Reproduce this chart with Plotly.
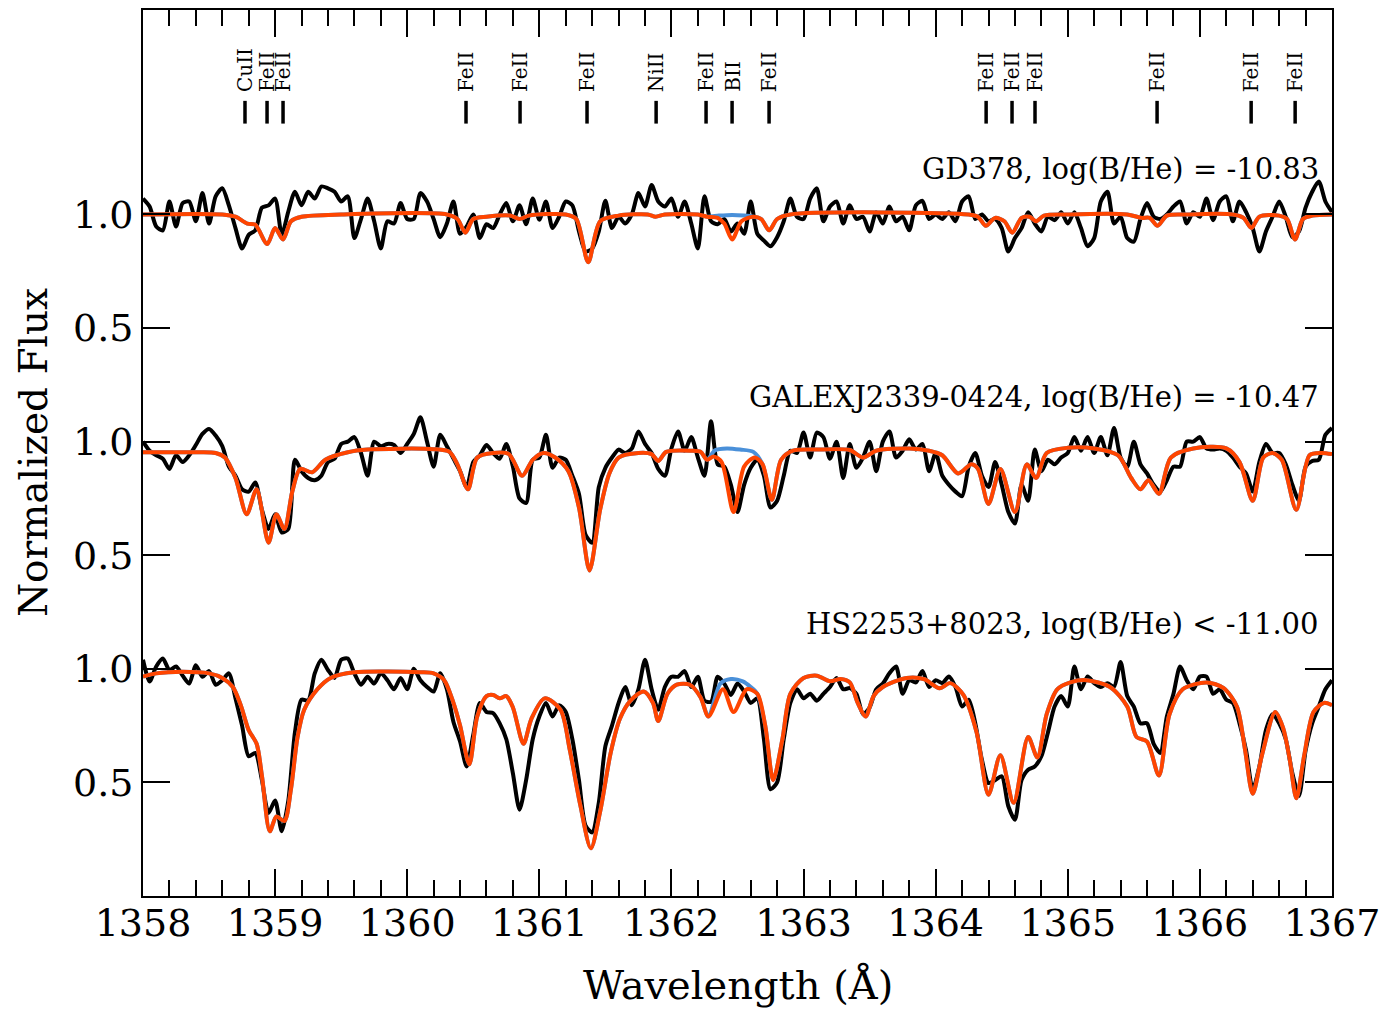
import plotly.graph_objects as go

# ---------------- data ----------------
WL_START = 1358.0
WL_STEP = 0.05
N_OBS = 181

OBS_GD378 = [
    1.07, 1.035, 0.947, 0.93, 1.057, 0.947, 1.05, 1.057, 0.97, 1.094, 0.96, 1.08, 1.115, 1.04, 0.94, 0.85, 0.91, 0.93, 1.03, 1.04,
    1.07, 0.91, 1.013, 1.10, 1.04, 1.10, 1.07, 1.123, 1.115, 1.10, 1.057, 1.08, 0.896, 0.98, 1.07, 0.97, 0.85, 0.97, 0.96, 1.05,
    0.98, 0.98, 1.094, 1.057, 0.98, 0.90, 0.96, 1.057, 0.915, 0.947, 1.00, 0.896, 0.957, 0.94, 1.0, 1.05, 0.97, 1.04, 0.957, 1.07,
    0.977, 1.057, 0.94, 0.99, 1.057, 1.04, 0.925, 0.837, 0.85, 0.925, 1.06, 0.94, 0.99, 0.96, 1.0, 1.094, 1.035, 1.13, 1.057, 1.035,
    1.07, 0.99, 1.057, 0.96, 0.85, 1.08, 0.97, 0.957, 0.98, 0.925, 0.96, 0.915, 1.057, 0.915, 0.885, 0.86, 0.90, 0.97, 1.07, 0.99,
    0.98, 1.07, 1.115, 0.97, 1.035, 1.057, 0.96, 1.04, 0.98, 0.99, 0.925, 1.01, 0.96, 1.035, 0.97, 0.99, 0.93, 1.04, 1.06, 0.98,
    1.0, 0.98, 1.01, 0.97, 1.057, 1.08, 0.98, 1.0, 0.97, 0.98, 0.94, 0.837, 0.896, 0.94, 1.01, 0.96, 0.925, 0.99, 0.975, 1.01,
    0.96, 1.01, 0.94, 0.86, 0.896, 1.057, 1.10, 0.96, 0.99, 0.896, 0.88, 0.98, 1.05, 0.99, 0.98, 1.0, 1.035, 1.057, 0.96, 1.01,
    0.99, 1.07, 0.975, 1.057, 1.08, 0.97, 1.057, 1.01, 0.94, 0.837, 0.925, 0.99, 1.057, 0.99, 0.90, 0.925, 1.03, 1.10, 1.145, 1.057,
    1.01,
]

OBS_GALEX = [
    1.0, 0.96, 0.94, 0.925, 0.88, 0.94, 0.91, 0.94, 0.985, 1.034, 1.056, 1.027, 0.98, 0.89, 0.85, 0.79, 0.78, 0.82, 0.70, 0.616,
    0.68, 0.60, 0.616, 0.92, 0.87, 0.84, 0.83, 0.85, 0.91, 0.925, 0.99, 1.0, 1.02, 0.95, 0.85, 1.0, 0.98, 0.99, 0.985, 0.95,
    0.99, 1.034, 1.107, 1.0, 0.89, 1.03, 0.98, 0.925, 0.87, 0.80, 0.91, 0.94, 0.985, 0.95, 0.925, 0.99, 0.89, 0.75, 0.73, 0.92,
    0.93, 1.03, 0.885, 0.93, 0.92, 0.85, 0.77, 0.59, 0.555, 0.80, 0.885, 0.93, 0.965, 0.95, 0.97, 1.045, 0.99, 0.95, 0.88, 0.85,
    0.97, 1.045, 0.96, 1.02, 0.93, 0.85, 1.09, 0.90, 0.89, 0.81, 0.69, 0.81, 0.885, 0.92, 0.85, 0.71, 0.74, 0.85, 0.96, 0.95,
    1.04, 0.93, 1.04, 1.02, 0.925, 1.0, 0.84, 0.99, 0.885, 0.93, 1.0, 0.87, 1.0, 1.045, 0.93, 0.96, 1.01, 0.965, 0.99, 0.87,
    0.95, 0.85, 0.81, 0.78, 0.76, 0.89, 0.95, 0.85, 0.80, 0.91, 0.81, 0.69, 0.64, 0.81, 0.74, 0.965, 0.87, 0.92, 0.90, 0.93,
    0.95, 1.02, 0.96, 1.02, 0.95, 1.02, 0.94, 1.06, 0.93, 0.89, 1.0, 0.90, 0.86, 0.81, 0.78, 0.83, 0.89, 0.89, 1.0, 1.0,
    1.02, 0.97, 0.965, 0.97, 0.96, 0.93, 0.89, 0.86, 0.78, 0.91, 0.99, 0.95, 0.95, 0.90, 0.81, 0.74, 0.89, 0.915, 0.92, 1.03,
    1.06,
]

OBS_HS2253 = [
    1.04, 0.944, 1.01, 1.045, 0.995, 1.01, 0.97, 0.935, 1.016, 0.965, 0.99, 0.93, 0.95, 0.98, 0.87, 0.75, 0.615, 0.63, 0.51, 0.365,
    0.42, 0.285, 0.42, 0.72, 0.864, 0.86, 0.98, 1.04, 0.995, 0.96, 1.04, 1.045, 0.98, 0.93, 0.965, 0.935, 0.98, 0.95, 0.91, 0.96,
    0.91, 1.0, 0.95, 0.92, 0.90, 0.98, 0.91, 0.766, 0.68, 0.57, 0.71, 0.85, 0.81, 0.805, 0.76, 0.69, 0.54, 0.38, 0.51, 0.69,
    0.79, 0.85, 0.79, 0.84, 0.81, 0.69, 0.51, 0.31, 0.28, 0.41, 0.66, 0.75, 0.85, 0.92, 0.84, 0.91, 1.04, 0.91, 0.82, 0.92,
    0.965, 0.965, 0.99, 0.92, 0.965, 0.86, 0.855, 0.965, 0.935, 0.885, 0.935, 0.90, 0.85, 0.87, 0.69, 0.47, 0.50, 0.69, 0.85, 0.91,
    0.87, 0.89, 0.86, 0.89, 0.92, 0.96, 0.91, 0.915, 0.89, 0.80, 0.83, 0.91, 0.935, 0.98, 1.01, 0.89, 0.95, 0.94, 0.99, 0.92,
    0.95, 0.937, 0.966, 0.92, 0.834, 0.864, 0.76, 0.60, 0.497, 0.51, 0.527, 0.395, 0.336, 0.51, 0.556, 0.57, 0.615, 0.72, 0.834, 0.88,
    0.834, 1.01, 0.91, 0.966, 0.937, 0.92, 0.937, 0.92, 1.03, 0.88, 0.834, 0.76, 0.76, 0.67, 0.63, 0.79, 0.89, 1.01, 0.95, 0.91,
    0.966, 0.966, 0.89, 0.91, 0.864, 0.85, 0.76, 0.64, 0.468, 0.57, 0.73, 0.80, 0.76, 0.69, 0.54, 0.44, 0.64, 0.76, 0.834, 0.91,
    0.95,
]

# models (with boron) at model wavelengths
MOD_GD378_WL = [1358.00, 1358.60, 1358.70, 1358.79, 1358.85, 1358.94, 1359.00, 1359.06, 1359.12, 1359.20, 1359.50,
                1360.30, 1360.38, 1360.44, 1360.50, 1360.60, 1360.78, 1360.85, 1360.92, 1361.20, 1361.28, 1361.37,
                1361.46, 1361.60, 1361.82, 1361.88, 1361.95, 1362.20, 1362.27, 1362.35, 1362.40, 1362.46, 1362.53,
                1362.62, 1362.68, 1362.74, 1362.80, 1362.90, 1364.25, 1364.32, 1364.38, 1364.45, 1364.52, 1364.58,
                1364.65, 1364.71, 1364.76, 1364.82, 1365.00, 1365.45, 1365.56, 1365.62, 1365.68, 1365.75, 1365.90,
                1366.25, 1366.33, 1366.39, 1366.45, 1366.60, 1366.66, 1366.72, 1366.78, 1366.85, 1367.00]
MOD_GD378_FLUX = [1.0, 1.0, 0.99, 0.96, 0.955, 0.87, 0.94, 0.89, 0.97, 0.99, 1.0,
                  1.0, 0.98, 0.92, 0.98, 0.99, 0.995, 0.98, 0.995, 1.0, 0.98, 0.79,
                  0.97, 0.995, 1.0, 0.99, 1.0, 1.0, 0.99, 0.985, 0.96, 0.89, 0.97,
                  0.99, 0.98, 0.93, 0.98, 1.0, 1.0, 0.99, 0.95, 0.985, 0.97, 0.92,
                  0.985, 0.99, 0.97, 0.995, 1.0, 1.0, 0.985, 0.985, 0.95, 0.995, 1.0,
                  1.0, 0.985, 0.94, 0.99, 0.995, 0.98, 0.89, 0.98, 0.995, 1.0]

MOD_GALEX_WL = [1358.00, 1358.40, 1358.55, 1358.62, 1358.70, 1358.785, 1358.86, 1358.95, 1359.01, 1359.07,
                1359.13, 1359.19, 1359.28, 1359.38, 1359.55, 1359.70, 1360.20, 1360.32, 1360.38, 1360.46,
                1360.53, 1360.65, 1360.77, 1360.87, 1360.95, 1361.03, 1361.12, 1361.22, 1361.30, 1361.38,
                1361.46, 1361.53, 1361.60, 1361.75, 1361.85, 1361.90, 1361.96, 1362.15, 1362.22, 1362.27,
                1362.32, 1362.38, 1362.47, 1362.55, 1362.63, 1362.69, 1362.76, 1362.83, 1362.92, 1363.10,
                1363.35, 1363.45, 1363.55, 1363.80, 1363.95, 1364.05, 1364.17, 1364.27, 1364.32, 1364.40,
                1364.49, 1364.60, 1364.69, 1364.76, 1364.84, 1365.00, 1365.20, 1365.38, 1365.48, 1365.55,
                1365.61, 1365.69, 1365.78, 1365.95, 1366.20, 1366.30, 1366.40, 1366.48, 1366.55, 1366.62,
                1366.73, 1366.83, 1366.92, 1367.00]
MOD_GALEX_FLUX = [0.953, 0.953, 0.95, 0.93, 0.84, 0.68, 0.79, 0.555, 0.68, 0.615,
                  0.78, 0.88, 0.865, 0.92, 0.953, 0.965, 0.967, 0.955, 0.90, 0.79,
                  0.93, 0.95, 0.945, 0.85, 0.92, 0.95, 0.93, 0.87, 0.71, 0.433,
                  0.70, 0.86, 0.93, 0.95, 0.945, 0.915, 0.955, 0.96, 0.955, 0.92,
                  0.935, 0.91, 0.69, 0.89, 0.93, 0.90, 0.744, 0.92, 0.96, 0.965,
                  0.963, 0.93, 0.96, 0.97, 0.96, 0.94, 0.86, 0.90, 0.88, 0.726,
                  0.88, 0.69, 0.90, 0.84, 0.95, 0.973, 0.97, 0.94, 0.84, 0.79,
                  0.83, 0.77, 0.93, 0.97, 0.97, 0.91, 0.74, 0.93, 0.95, 0.92,
                  0.70, 0.94, 0.95, 0.945]

MOD_HS2253_WL = [1358.00, 1358.10, 1358.30, 1358.50, 1358.60, 1358.68, 1358.74, 1358.80, 1358.86, 1358.90,
                 1358.96, 1359.01, 1359.07, 1359.12, 1359.17, 1359.22, 1359.32, 1359.42, 1359.60, 1360.10,
                 1360.20, 1360.28, 1360.35, 1360.40, 1360.47, 1360.53, 1360.60, 1360.65, 1360.70, 1360.75,
                 1360.80, 1360.88, 1360.94, 1361.04, 1361.16, 1361.23, 1361.31, 1361.39, 1361.46, 1361.54,
                 1361.61, 1361.69, 1361.79, 1361.86, 1361.90, 1361.97, 1362.04, 1362.14, 1362.22, 1362.28,
                 1362.39, 1362.47, 1362.57, 1362.65, 1362.71, 1362.77, 1362.84, 1362.90, 1363.00, 1363.10,
                 1363.20, 1363.28, 1363.35, 1363.41, 1363.47, 1363.53, 1363.60, 1363.78, 1363.91, 1364.03,
                 1364.11, 1364.21, 1364.31, 1364.40, 1364.49, 1364.59, 1364.70, 1364.77, 1364.84, 1364.92,
                 1365.02, 1365.14, 1365.32, 1365.45, 1365.52, 1365.60, 1365.69, 1365.77, 1365.87, 1366.05,
                 1366.18, 1366.28, 1366.34, 1366.40, 1366.47, 1366.57, 1366.63, 1366.68, 1366.73, 1366.79,
                 1366.86, 1366.94, 1367.00]
MOD_HS2253_FLUX = [0.966, 0.98, 0.987, 0.98, 0.96, 0.92, 0.84, 0.73, 0.67, 0.53,
                   0.285, 0.35, 0.33, 0.47, 0.70, 0.82, 0.91, 0.96, 0.985, 0.985,
                   0.98, 0.95, 0.85, 0.75, 0.58, 0.79, 0.88, 0.885, 0.87, 0.88,
                   0.83, 0.67, 0.78, 0.87, 0.82, 0.645, 0.40, 0.21, 0.37, 0.63,
                   0.78, 0.86, 0.90, 0.85, 0.77, 0.89, 0.93, 0.93, 0.875, 0.79,
                   0.91, 0.81, 0.91, 0.89, 0.75, 0.51, 0.69, 0.89, 0.96, 0.97,
                   0.945, 0.955, 0.94, 0.85, 0.79, 0.88, 0.92, 0.96, 0.955, 0.915,
                   0.937, 0.885, 0.72, 0.446, 0.62, 0.41, 0.70, 0.61, 0.80, 0.91,
                   0.94, 0.95, 0.92, 0.834, 0.70, 0.68, 0.53, 0.80, 0.91, 0.94,
                   0.915, 0.834, 0.65, 0.45, 0.62, 0.81, 0.74, 0.60, 0.43, 0.62,
                   0.81, 0.85, 0.84]

# boron-free model: differs only around the B II line
NOB_GD378_RANGE = (1362.30, 1362.58)
NOB_GD378_WL = [1362.36, 1362.46, 1362.55]
NOB_GD378_FLUX = [0.995, 0.998, 0.995]
NOB_GALEX_RANGE = (1362.29, 1362.66)
NOB_GALEX_WL = [1362.33, 1362.42, 1362.52, 1362.62]
NOB_GALEX_FLUX = [0.962, 0.97, 0.965, 0.955]
NOB_HS2253_RANGE = (1362.30, 1362.62)
NOB_HS2253_WL = [1362.37, 1362.45, 1362.54, 1362.60]
NOB_HS2253_FLUX = [0.935, 0.955, 0.945, 0.92]

OFFSETS = [2.0, 1.0, 0.0]
STAR_LABELS = ["GD378, log(B/He) = -10.83",
               "GALEXJ2339-0424, log(B/He) = -10.47",
               "HS2253+8023, log(B/He) &lt; -11.00"]

LINE_WL = [1358.772, 1358.939, 1359.060, 1360.445, 1360.854, 1361.361, 1361.884, 1362.262,
           1362.459, 1362.739, 1364.382, 1364.578, 1364.752, 1365.676, 1366.388, 1366.721]
LINE_ION = ["CuII", "FeII", "FeII", "FeII", "FeII", "FeII", "NiII", "FeII",
            "BII", "FeII", "FeII", "FeII", "FeII", "FeII", "FeII", "FeII"]

Y_TICKVALS = [0.5, 1.0, 1.5, 2.0, 2.5, 3.0]
Y_TICKTEXT = ["0.5", "1.0", "0.5", "1.0", "0.5", "1.0"]
X_TICKVALS = [1358, 1359, 1360, 1361, 1362, 1363, 1364, 1365, 1366, 1367]

# ---------------- figure ----------------
FONT = "DejaVu Serif"
BLACK = "#000000"
ORANGE = "#FF4500"
BLUE = "#4A90D9"

obs_wl = [round(WL_START + i * WL_STEP, 3) for i in range(N_OBS)]


def no_boron(wl, flux, rng, nwl, nflux):
    pts = [(w, f) for w, f in zip(wl, flux) if not (rng[0] < w < rng[1])]
    pts += list(zip(nwl, nflux))
    pts.sort()
    return [p[0] for p in pts], [p[1] for p in pts]


fig = go.Figure()

stars = [
    (OBS_GD378, MOD_GD378_WL, MOD_GD378_FLUX, NOB_GD378_RANGE, NOB_GD378_WL, NOB_GD378_FLUX),
    (OBS_GALEX, MOD_GALEX_WL, MOD_GALEX_FLUX, NOB_GALEX_RANGE, NOB_GALEX_WL, NOB_GALEX_FLUX),
    (OBS_HS2253, MOD_HS2253_WL, MOD_HS2253_FLUX, NOB_HS2253_RANGE, NOB_HS2253_WL, NOB_HS2253_FLUX),
]

for (obs, mwl, mfl, rng, nwl, nfl), off in zip(stars, OFFSETS):
    fig.add_trace(go.Scatter(x=obs_wl, y=[v + off for v in obs], mode="lines",
                             line=dict(color=BLACK, width=4, shape="spline", smoothing=0.7),
                             showlegend=False, hoverinfo="skip"))
    bwl, bfl = no_boron(mwl, mfl, rng, nwl, nfl)
    fig.add_trace(go.Scatter(x=bwl, y=[v + off for v in bfl], mode="lines",
                             line=dict(color=BLUE, width=4, shape="spline", smoothing=0.8),
                             showlegend=False, hoverinfo="skip"))
    fig.add_trace(go.Scatter(x=mwl, y=[v + off for v in mfl], mode="lines",
                             line=dict(color=ORANGE, width=4, shape="spline", smoothing=0.8),
                             showlegend=False, hoverinfo="skip"))

# line identification markers
mx, my = [], []
for w in LINE_WL:
    mx += [w, w, None]
    my += [3.40, 3.50, None]
fig.add_trace(go.Scatter(x=mx, y=my, mode="lines", line=dict(color=BLACK, width=3.5),
                         showlegend=False, hoverinfo="skip"))

annotations = []
for w, ion in zip(LINE_WL, LINE_ION):
    annotations.append(dict(x=w, y=3.53, xref="x", yref="y", text=ion, showarrow=False,
                            textangle=-90, xanchor="center", yanchor="bottom",
                            font=dict(family=FONT, size=20, color=BLACK)))

for txt, off in zip(STAR_LABELS, OFFSETS):
    annotations.append(dict(x=1366.92, y=off + 1.198, xref="x", yref="y", text=txt, showarrow=False,
                            xanchor="right", yanchor="middle",
                            font=dict(family=FONT, size=29, color=BLACK)))

annotations.append(dict(x=0.5, y=-0.10, xref="paper", yref="paper", text="Wavelength (Å)",
                        showarrow=False, xanchor="center", yanchor="middle",
                        font=dict(family=FONT, size=40, color=BLACK)))
annotations.append(dict(x=-0.0925, y=0.5, xref="paper", yref="paper", text="Normalized Flux",
                        showarrow=False, textangle=-90, xanchor="center", yanchor="middle",
                        font=dict(family=FONT, size=39, color=BLACK)))

fig.update_layout(
    width=1389, height=1016,
    margin=dict(l=143, r=57, t=8, b=120),
    paper_bgcolor="white", plot_bgcolor="white",
    font=dict(family=FONT, size=38, color=BLACK),
    annotations=annotations,
    xaxis=dict(range=[1358, 1367], tickvals=X_TICKVALS, ticks="inside", ticklen=27, tickwidth=1.5,
               tickcolor=BLACK, showline=True, linecolor=BLACK, linewidth=2, mirror="allticks",
               showgrid=False, zeroline=False, tickfont=dict(family=FONT, size=38, color=BLACK),
               ticklabelstandoff=-8,
               minor=dict(dtick=0.2, tick0=1358, ticks="inside", ticklen=16, tickwidth=1.5,
                          tickcolor=BLACK, showgrid=False)),
    yaxis=dict(range=[0, 3.9], tickvals=Y_TICKVALS, ticktext=Y_TICKTEXT, ticks="inside", ticklen=27,
               tickwidth=1.5, tickcolor=BLACK, showline=True, linecolor=BLACK, linewidth=2,
               mirror="allticks", showgrid=False, zeroline=False,
               tickfont=dict(family=FONT, size=38, color=BLACK)),
)

fig.write_html("out.html")
